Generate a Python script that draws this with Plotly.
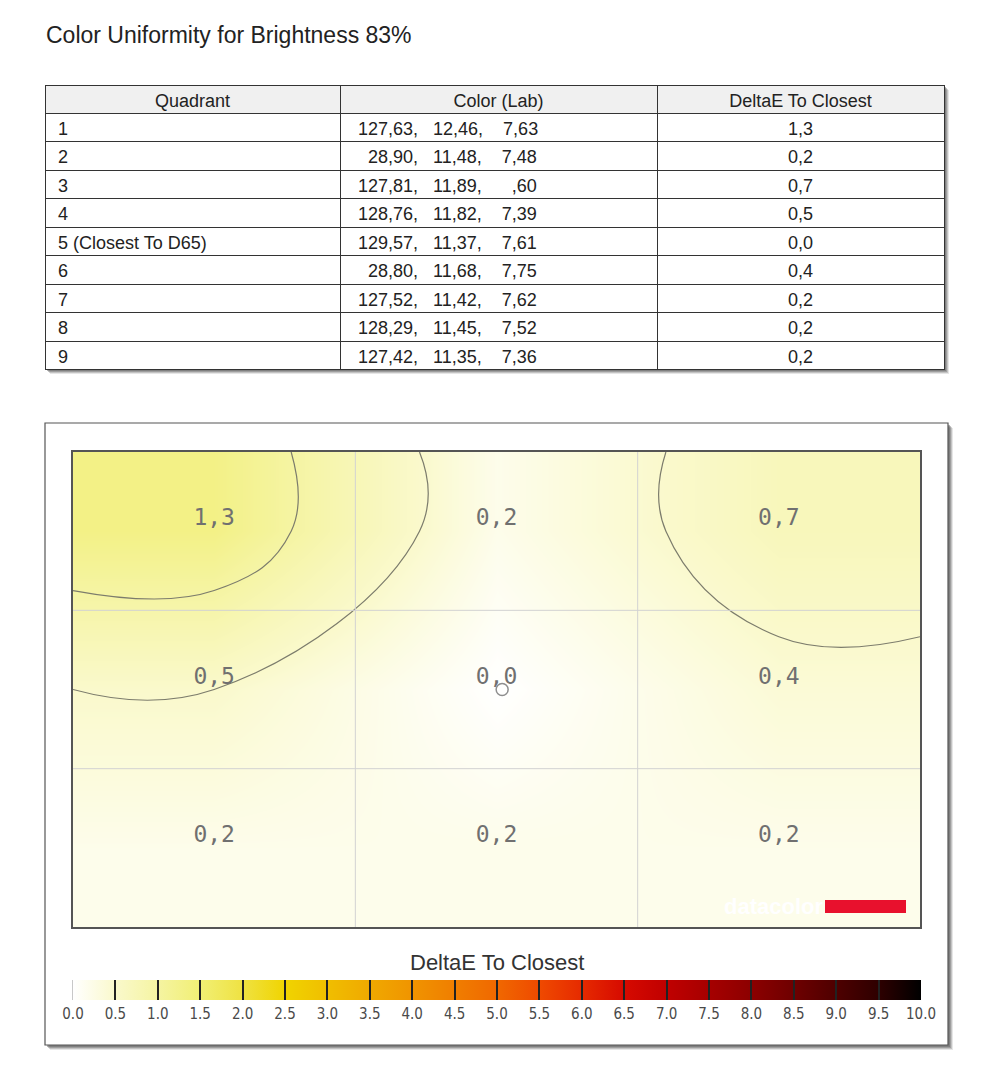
import numpy as np
import plotly.graph_objects as go

# Table data
quadrants = ["1", "2", "3", "4", "5 (Closest To D65)", "6", "7", "8", "9"]
lab_L = ["127,63", "28,90", "127,81", "128,76", "129,57", "28,80", "127,52", "128,29", "127,42"]
lab_a = ["12,46", "11,48", "11,89", "11,82", "11,37", "11,68", "11,42", "11,45", "11,35"]
lab_b = ["7,63", "7,48", ",60", "7,39", "7,61", "7,75", "7,62", "7,52", "7,36"]
delta_e = [1.3, 0.2, 0.7, 0.5, 0.0, 0.4, 0.2, 0.2, 0.2]

# Colour scale of the DeltaE legend (value -> colour)
scale_vals = [0.0, 0.5, 1.0, 1.5, 2.0, 2.5, 3.0, 3.5, 4.0, 4.5, 5.0,
              5.5, 6.0, 6.5, 7.0, 7.5, 8.0, 8.5, 9.0, 9.5, 10.0]
scale_cols = ["#ffffff", "#faf9cc", "#f5f4a2", "#f1ef74", "#efe242", "#f0d400",
              "#f0be00", "#f0a900", "#f09400", "#f07e00", "#f06800", "#ef4a00",
              "#e62a00", "#d60a00", "#c00000", "#a60000", "#8c0000", "#6e0000",
              "#4e0000", "#2e0000", "#000000"]

D65_POS = (1.52, 1.5)

# page has an 8px body margin, so the figure sits at (8, 8)
OFF = 8
W, H = 1008 - 2 * OFF, 1086 - 2 * OFF


def px(x):
    return (x - OFF) / W


def py(y):
    return 1 - (y - OFF) / H


FS = "\u2007"   # figure space (digit width)
NB = "\u00a0"
lab_txt = [NB * 2 + L.rjust(6, FS) + "," + NB * 3 + a.rjust(5, FS) + "," + NB * 4 + b.rjust(4, FS)
           for L, a, b in zip(lab_L, lab_a, lab_b)]
de_txt = [f"{v:.1f}".replace(".", ",") for v in delta_e]

fig = go.Figure()

############### Table ###############
fig.add_trace(go.Table(
    domain=dict(x=[px(45), px(944)], y=[py(372), py(85)]),
    columnwidth=[295, 317, 287],
    header=dict(values=["Quadrant", "Color (Lab)", "DeltaE To Closest"],
                fill_color="#f0f0f0", line=dict(color="#333333", width=1),
                align="center", height=28,
                font=dict(family="Liberation Sans, Arial", size=18, color="#222222")),
    cells=dict(values=[[NB + q for q in quadrants], lab_txt, de_txt],
               fill_color="white", line=dict(color="#333333", width=1),
               align=["left", "left", "center"], height=28.5,
               font=dict(family="Liberation Sans, Arial", size=18, color="#222222")),
))

############### Uniformity map ###############
z = np.array(delta_e).reshape(3, 3)
centers = [0.5, 1.5, 2.5]
colorscale = [[v / 10, c] for v, c in zip(scale_vals, scale_cols)]

fig.add_trace(go.Heatmap(
    z=z, x=centers, y=centers, zmin=0, zmax=10, zsmooth="best",
    colorscale=colorscale, hoverinfo="skip",
    colorbar=dict(orientation="h", x=px(497), xanchor="center",
                  y=py(980), yanchor="top",
                  lenmode="pixels", len=848, thickness=20,
                  xpad=0, ypad=0, outlinewidth=0,
                  tickmode="array", tickvals=scale_vals,
                  ticktext=[f"{v:.1f}" for v in scale_vals],
                  ticks="inside", ticklen=20, tickwidth=1.5, tickcolor="#222222",
                  tickfont=dict(family="DejaVu Sans Condensed, Liberation Sans", size=15, color="#4a4a4a")),
))

# contour lines, grid padded with its edge values so lines reach the border
zp = np.pad(z, 1, mode="edge")
edges = [0.0] + centers + [3.0]
fig.add_trace(go.Contour(
    z=zp, x=edges, y=edges, showscale=False, hoverinfo="skip",
    contours=dict(start=0.5, end=1.0, size=0.5, coloring="none"),
    line=dict(color="#7c7c6c", width=1.2, smoothing=1.3),
))

# cell labels
gx, gy = np.meshgrid(centers, centers)
fig.add_trace(go.Scatter(
    x=gx.ravel(), y=gy.ravel(), mode="text", text=de_txt,
    textposition="top center", hoverinfo="skip", showlegend=False,
    textfont=dict(family="DejaVu Sans Mono", size=23, color="#707070"),
))

fig.add_trace(go.Scatter(
    x=[D65_POS[0]], y=[D65_POS[1]], mode="markers", hoverinfo="skip", showlegend=False,
    marker=dict(symbol="circle-open", size=12, color="#8e8e8e", line=dict(width=1.5)),
))

shapes = []
# shadows + frames
for (x0, y0, x1, y1) in [(45, 85, 944, 369), (45, 423, 948, 1045)]:
    for k, op in [(5, 0.15), (4, 0.25), (3, 0.35), (2, 0.45)]:
        shapes.append(dict(type="rect", xref="paper", yref="paper", layer="below",
                           x0=px(x0 + k), x1=px(x1 + k), y0=py(y1 + k), y1=py(y0 + k),
                           fillcolor=f"rgba(90,90,90,{op})", line=dict(width=0)))
shapes.append(dict(type="rect", xref="paper", yref="paper", layer="below",
                   x0=px(45), x1=px(948), y0=py(1045), y1=py(423),
                   fillcolor="white", line=dict(color="#555555", width=1.2)))
# grid lines over the map
for k in range(1, 3):
    shapes.append(dict(type="line", xref="x", yref="y", layer="above",
                       x0=k, x1=k, y0=0, y1=3, line=dict(color="#d2d2d2", width=1)))
    shapes.append(dict(type="line", xref="x", yref="y", layer="above",
                       x0=0, x1=3, y0=k, y1=k, line=dict(color="#d2d2d2", width=1)))
# first legend tick (plotly drops the one sitting on the bar edge)
shapes.append(dict(type="line", xref="paper", yref="paper", layer="above",
                   x0=px(73.5), x1=px(73.5), y0=py(1000), y1=py(980),
                   line=dict(color="#222222", width=1.5)))
# datacolor logo bar
shapes.append(dict(type="rect", xref="paper", yref="paper", layer="above",
                   x0=px(825), x1=px(906), y0=py(913), y1=py(900),
                   fillcolor="#e8112d", line=dict(width=0)))

fig.update_layout(
    width=W, height=H, margin=dict(l=0, r=0, t=0, b=0),
    paper_bgcolor="white", plot_bgcolor="white", showlegend=False,
    title=dict(text="Color Uniformity for Brightness 83%", x=px(46), xanchor="left",
               y=py(35), yanchor="middle",
               font=dict(family="Liberation Sans, Arial", size=23, color="#222222")),
    xaxis=dict(domain=[px(73), px(920)], range=[0, 3], showgrid=False, zeroline=False,
               showticklabels=False, ticks="", showline=True, mirror=True,
               linecolor="#555555", linewidth=1.5),
    yaxis=dict(domain=[py(927), py(452)], range=[3, 0], showgrid=False, zeroline=False,
               showticklabels=False, ticks="", showline=True, mirror=True,
               linecolor="#555555", linewidth=1.5),
    shapes=shapes,
    annotations=[
        dict(text="DeltaE To Closest", xref="paper", yref="paper",
             x=px(497), y=py(962), xanchor="center", yanchor="middle", showarrow=False,
             font=dict(family="Liberation Sans, Arial", size=22, color="#333333")),
        dict(text="<b>datacolor</b>", xref="paper", yref="paper",
             x=px(825), y=py(906), xanchor="right", yanchor="middle",
             showarrow=False,
             font=dict(family="Liberation Sans, Arial", size=22, color="white")),
    ],
)

fig.write_html("out.html")
